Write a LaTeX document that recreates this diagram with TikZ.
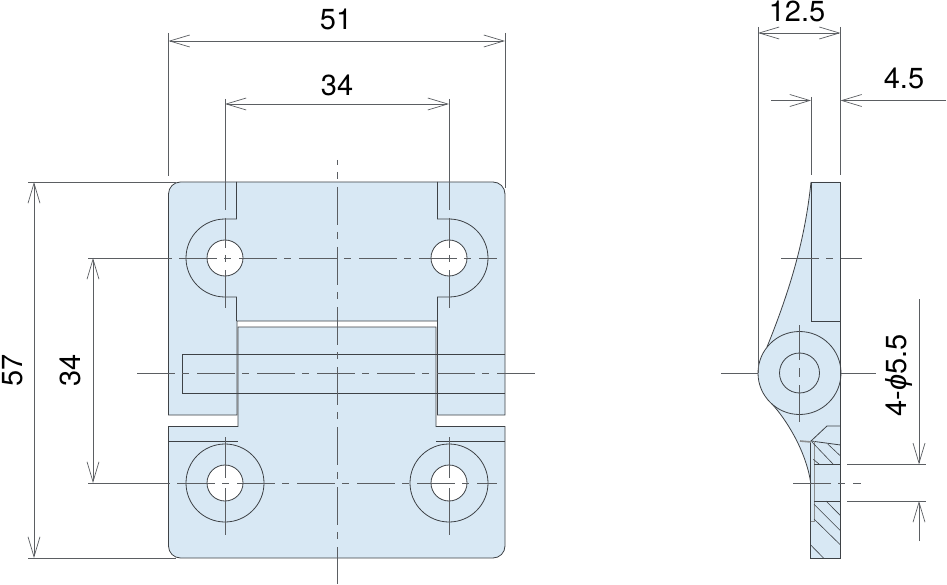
\documentclass[tikz,border=0pt]{standalone}
\usepackage{fontspec}
\setmainfont{TeX Gyre Heros}
\newfontfamily\phifont{Liberation Sans}
\usetikzlibrary{arrows.meta}
\definecolor{platefill}{HTML}{D8E8F4}
\definecolor{inkline}{HTML}{3E4246}
\begin{document}
\begin{tikzpicture}
		[x=1pt,y=-1pt,
		every node/.style={text=black,font=\fontsize{29}{29}\selectfont,inner sep=0pt},
		outline/.style={draw=inkline,line width=0.8pt},
		blank/.style={fill=platefill,draw=inkline,line width=0.8pt},
		hole/.style={fill=white,draw=inkline,line width=0.8pt},
		thin line/.style={draw=inkline!85,line width=0.7pt},
		dimline/.style={thin line,{Straight Barb[length=20pt,width=12pt]}-{Straight Barb[length=20pt,width=12pt]}},
		oneway/.style={thin line,-{Straight Barb[length=20pt,width=12pt]}},
		centerline/.style={draw=inkline!85,line width=0.7pt,dash pattern=on 38pt off 7pt on 7pt off 8pt},
		hatching/.style={draw=inkline,line width=0.6pt},
		]

		\useasboundingbox (0,0) rectangle (947,585);

		% front view, upper plate and lower plate
		\path[blank] (237,415) -- (168.5,415) [rounded corners=12] -- (168.5,182) -- (505,182) -- (505,300) [sharp corners] -- (505,415) -- (437.5,415) -- (437.5,321) -- (237,321) -- cycle;
		\path[blank] (168.5,426.5) -- (238,426.5) -- (238,327) -- (436,327) -- (436,426.5) -- (505,426.5) [rounded corners=12] -- (505,558) -- (168.5,558) [sharp corners] -- cycle;
		\draw[outline] (168.5,441) -- (238,441) (436,441) -- (505,441);
		\draw[outline] (505,354) -- (182,354) -- (182,393) -- (505,393);

		% recesses round the upper holes
		\draw[outline] (236.5,182) -- (236.5,219) -- (225,219) arc[start angle=270,end angle=90,radius=39] -- (236.5,297) -- (236.5,321);
		\draw[outline] (437.5,182) -- (437.5,219) -- (449,219) arc[start angle=-90,end angle=90,radius=39] -- (437.5,297) -- (437.5,321);

		\foreach \holex in {225,449}{
			\draw[outline] (\holex,483) circle[radius=39];
			\draw[hole] (\holex,483) circle[radius=18];
			\draw[hole] (\holex,258) circle[radius=18];
			\draw[thin line] (\holex,437) -- (\holex,478) (\holex,488) -- (\holex,535);
			\draw[thin line] (\holex,99) -- (\holex,210);
			\draw[centerline,dash phase=8pt] (\holex,218) -- (\holex,308);
		}

		% center lines of the front view
		\draw[centerline,dash phase=33pt] (337,160) -- (337,584);
		\draw[thin line] (88,258) -- (172,258) (88,483) -- (170,483);
		\draw[centerline] (179,258) -- (497,258);
		\draw[centerline] (177,483) -- (497,483);
		\draw[centerline] (137,373.5) -- (535,373.5);

		% dimensions of the front view
		\draw[thin line] (168.5,33) -- (168.5,176) (505,33) -- (505,188);
		\draw[dimline] (168.5,41) -- (505,41);
		\node (widthA) at (336,19) {51};
		\draw[dimline] (225,104) -- (449,104);
		\node (widthB) at (337,85) {34};
		\draw[thin line] (28,182) -- (176,182) (28,558) -- (176,558);
		\draw[dimline] (34,182) -- (34,558);
		\node[rotate=90] (heightA) at (12.5,370) {57};
		\draw[dimline] (93,258) -- (93,483);
		\node[rotate=90] (heightB) at (70,370) {34};

		% side view
		\fill[platefill] (811,182) .. controls (805,240) and (790,290) .. (767,347) -- (772,404) .. controls (785,418) and (806,450) .. (810.7,483) -- (810.7,558.5) -- (840.5,558.5) -- (840.5,182) -- cycle;
		\draw[blank] (799.5,373) circle[radius=41.5];
		\draw[outline] (811,182) .. controls (805,240) and (790,290) .. (767,347);
		\draw[outline] (772,404) .. controls (785,418) and (806,450) .. (810.7,483);
		\draw[outline] (811,321) -- (811,182) -- (840.5,182) -- (840.5,558.5) -- (810.7,558.5) -- (810.7,441);
		\draw[outline] (811,321) -- (840.5,321);
		\draw[outline] (799.5,373) circle[radius=20];
		\draw[outline] (840.5,426) -- (827,426) -- (811,441) -- (840.5,445);
		\draw[draw=inkline!60,line width=1.6pt] (800,441) -- (811,442);
		\draw[draw=inkline!60,line width=0.8pt] (814,441) -- (814,521) -- (811,521);
		\draw[outline] (814,464.3) -- (840.5,464.3) (814,501) -- (840.5,501);

		% section hatching
		\draw[hatching] (811.7,441.7) -- (833.3,464.3);
		\draw[hatching] (827.7,444) -- (840.5,456);
		\draw[hatching] (813.3,459.3) -- (819.3,464.3);
		\draw[hatching] (826,501) -- (840.5,515.7);
		\draw[hatching] (814,504.3) -- (840.5,530.7);
		\draw[hatching] (814,519) -- (840.5,545);
		\draw[hatching] (810.7,545) -- (824,558.5);

		% center lines of the side view
		\draw[thin line] (799.5,325) -- (799.5,360) (799.5,368) -- (799.5,377) (799.5,385) -- (799.5,422);
		\draw[thin line] (721,373) -- (758,373) (841,373) -- (876,373);
		\draw[centerline] (781,258) -- (862,258);
		\draw[centerline] (793,483) -- (861,483);

		% dimensions of the side view
		\draw[thin line] (758,27) -- (758,373) (840.5,27) -- (840.5,175) (811,97) -- (811,175);
		\draw[dimline] (758,33) -- (840.5,33);
		\node (depthA) at (797,11.5) {12.5};
		\draw[oneway] (771,100.5) -- (811,100.5);
		\draw[oneway] (946,100.5) -- (840.5,100.5);
		\node (depthB) at (904,78) {4.5};
		\draw[thin line] (847,464.3) -- (926,464.3) (847,501) -- (926,501);
		\draw[oneway] (919,299) -- (919,464.3);
		\draw[oneway] (919,541) -- (919,501);
		\node[rotate=90] (holesize) at (899,375.5) {4-{\phifont\itshape ϕ}5.5};
	\end{tikzpicture}
\end{document}
